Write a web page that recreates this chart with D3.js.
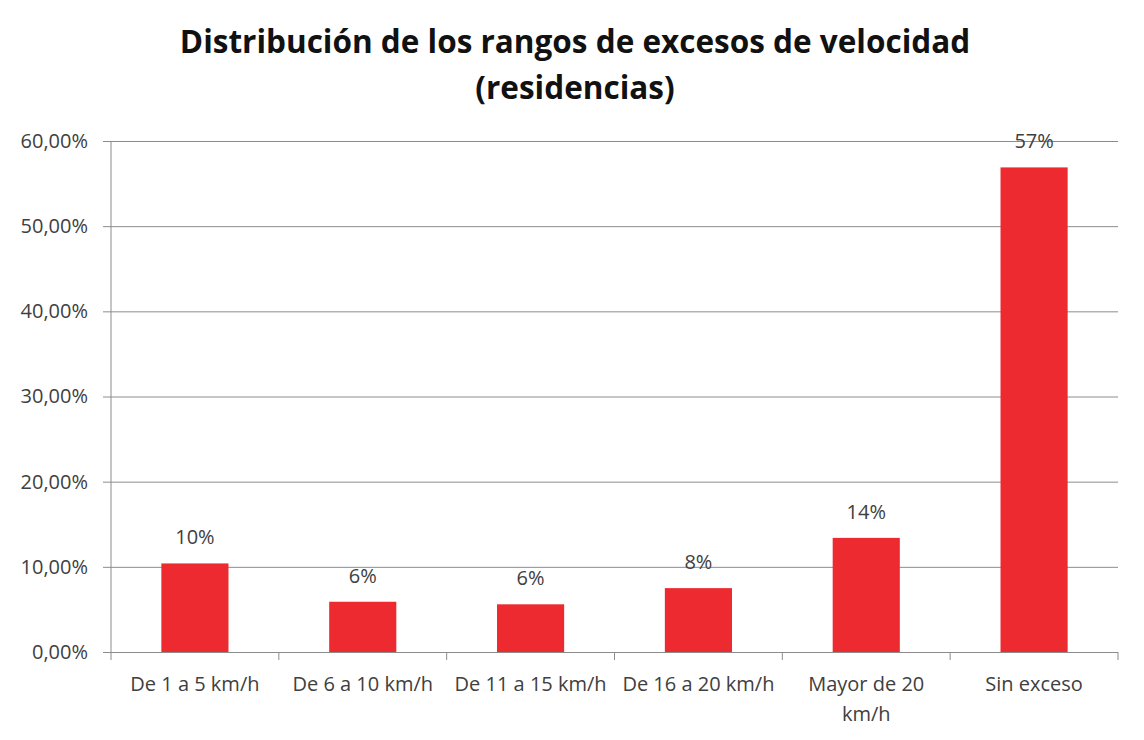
<!DOCTYPE html>
<html>
  <head>
    <meta charset="utf-8"/>
    <title>Distribución de los rangos de excesos de velocidad</title>
    <script src="https://cdnjs.cloudflare.com/ajax/libs/d3/7.8.5/d3.min.js"></script>
    <style>
      body { margin: 0; background: #fff; }
      text { font-family: "Open Sans", "Liberation Sans", sans-serif; }
      .axis path { display: none; }
      .axis line { stroke: #8c8c8c; }
      .axis text { font-size: 20px; fill: #404040; }
    </style>
  </head>
  <body>
    <script>

      var outerWidth = 1144;
      var outerHeight = 740;

      var categories = ["De 1 a 5 km/h", "De 6 a 10 km/h", "De 11 a 15 km/h",
                        "De 16 a 20 km/h", "Mayor de 20 km/h", "Sin exceso"];
      var tickLines = [["De 1 a 5 km/h"], ["De 6 a 10 km/h"], ["De 11 a 15 km/h"],
                       ["De 16 a 20 km/h"], ["Mayor de 20", "km/h"], ["Sin exceso"]];
      var values = [10.4, 5.9, 5.6, 7.5, 13.4, 56.9];
      var valueLabels = ["10%", "6%", "6%", "8%", "14%", "57%"];
      var yTicks = [0, 10, 20, 30, 40, 50, 60];
      var titleLines = ["Distribución de los rangos de excesos de velocidad", "(residencias)"];

      var margin = { left: 111, right: 26, top: 141, bottom: 88 };
      var width = outerWidth - margin.left - margin.right;
      var height = outerHeight - margin.top - margin.bottom;

      var svg = d3.select("body").append("svg")
        .attr("width", outerWidth)
        .attr("height", outerHeight);

      svg.append("g").selectAll("text").data(titleLines).enter().append("text")
        .attr("x", 575)
        .attr("y", function (d, i){ return 53 + i * 46; })
        .attr("text-anchor", "middle")
        .style("font-size", "31.5px")
        .style("font-weight", "bold")
        .style("fill", "#111")
        .text(function (d){ return d; });

      var g = svg.append("g")
        .attr("transform", "translate(" + margin.left + "," + margin.top + ")");

      var xScale = d3.scaleBand().domain(categories).range([0, width])
        .paddingInner(0.6).paddingOuter(0.3);
      var yScale = d3.scaleLinear().domain([0, 60]).range([height, 0]);

      // gridlines + y axis
      var yAxis = g.append("g").attr("class", "axis")
        .call(d3.axisLeft(yScale).tickValues(yTicks).tickSize(-width).tickPadding(23)
          .tickFormat(function (d){ return d.toFixed(2).replace(".", ",") + "%"; }));
      yAxis.selectAll("line").attr("x1", -8).attr("x2", width);

      // vertical axis line
      g.append("line")
        .attr("x1", 0).attr("x2", 0).attr("y1", 0).attr("y2", height)
        .attr("stroke", "#8c8c8c");

      // category separators on x axis
      var step = xScale.step();
      var seps = d3.range(categories.length + 1);
      g.append("g").selectAll("line").data(seps).enter().append("line")
        .attr("x1", function (d){ return d * step; })
        .attr("x2", function (d){ return d * step; })
        .attr("y1", height).attr("y2", height + 8)
        .attr("stroke", "#8c8c8c");

      // x labels
      var xl = g.append("g").attr("class", "axis").selectAll("text").data(categories).enter().append("text")
        .attr("x", function (d){ return xScale(d) + xScale.bandwidth() / 2; })
        .attr("y", height + 39)
        .attr("text-anchor", "middle");
      xl.each(function (d, i){
        var t = d3.select(this);
        tickLines[i].forEach(function (line, j){
          t.append("tspan")
            .attr("x", xScale(d) + xScale.bandwidth() / 2)
            .attr("dy", j === 0 ? 0 : 30)
            .text(line);
        });
      });

      // bars
      g.selectAll("rect").data(values).enter().append("rect")
        .attr("x", function (d, i){ return xScale(categories[i]); })
        .attr("y", function (d){ return yScale(d); })
        .attr("width", xScale.bandwidth())
        .attr("height", function (d){ return height - yScale(d); })
        .attr("fill", "#ec2a2f");

      // value labels
      g.append("g").selectAll("text").data(values).enter().append("text")
        .attr("x", function (d, i){ return xScale(categories[i]) + xScale.bandwidth() / 2; })
        .attr("y", function (d){ return yScale(d) - 19; })
        .attr("text-anchor", "middle")
        .style("font-size", "20px")
        .style("fill", "#404040")
        .text(function (d, i){ return valueLabels[i]; });

    </script>
  </body>
</html>
